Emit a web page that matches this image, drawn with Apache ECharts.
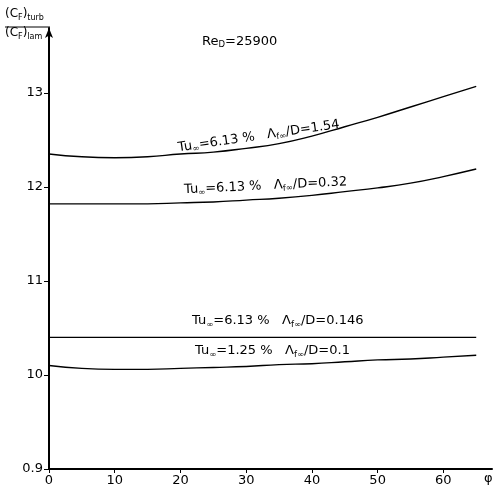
<!DOCTYPE html>
<html>
<head>
<meta charset="utf-8">
<script src="https://cdn.jsdelivr.net/npm/echarts@6/dist/echarts.min.js"></script>
<style>html,body{margin:0;padding:0;background:#fff}#c{width:494px;height:488px}</style>
</head>
<body>
<div id="c"></div>
<script>
const phi = [0, 5, 10, 15, 20, 25, 30, 35, 40, 45, 50, 55, 60, 65];
const curve154 = [12.35, 12.32, 12.31, 12.32, 12.35, 12.37, 12.41, 12.46, 12.54, 12.64, 12.74, 12.85, 12.96, 13.07];
const curve032 = [11.82, 11.82, 11.82, 11.82, 11.83, 11.84, 11.86, 11.88, 11.91, 11.95, 11.99, 12.04, 12.11, 12.19];
const curve0146 = [10.40, 10.40, 10.40, 10.40, 10.40, 10.40, 10.40, 10.40, 10.40, 10.40, 10.40, 10.40, 10.40, 10.40];
const curve01 = [10.10, 10.07, 10.06, 10.06, 10.07, 10.08, 10.09, 10.11, 10.12, 10.14, 10.16, 10.17, 10.19, 10.21];
const xTicks = [0, 10, 20, 30, 40, 50, 60];
const yTicks = [9, 10, 11, 12, 13];
const yTickLabels = ['0.9', '10', '11', '12', '13'];
const curveLabels = [
  {tu: '6.13', ld: '1.54'},
  {tu: '6.13', ld: '0.32'},
  {tu: '6.13', ld: '0.146'},
  {tu: '1.25', ld: '0.1'}
];

const FONT = 'DejaVu Sans';
const chart = echarts.init(document.getElementById('c'), null, {renderer: 'canvas'});
const mk = (arr) => phi.map((p, i) => [p, arr[i]]);
const lineStyle = {color: '#000', width: 1.4};
const richSub = {
  m: {fontFamily: FONT, fontSize: 13, color: '#000', lineHeight: 16, verticalAlign: 'middle'},
  s: {fontFamily: FONT, fontSize: 8.5, color: '#000', lineHeight: 8, verticalAlign: 'bottom'}
};
const richSmall = {
  m: {fontFamily: FONT, fontSize: 12, color: '#000', lineHeight: 15, verticalAlign: 'middle'},
  s: {fontFamily: FONT, fontSize: 8, color: '#000', lineHeight: 8, verticalAlign: 'bottom'}
};
function labelText(l) {
  return '{m|Tu}{s|∞}{m|=' + l.tu + ' %   Λ}{s|f∞}{m|/D=' + l.ld + '}';
}
const labelPos = [
  {x: 178, y: 148, r: 0.145},
  {x: 184, y: 190, r: 0.05},
  {x: 192, y: 321, r: 0},
  {x: 195, y: 351, r: 0}
];

const option = {
  animation: false,
  backgroundColor: '#fff',
  grid: {left: 49, right: 2, top: 28, bottom: 19, containLabel: false},
  xAxis: {
    type: 'value', min: 0, max: 67.4, interval: 10,
    axisLine: {lineStyle: {color: '#000', width: 2}},
    axisTick: {customValues: xTicks, length: 4, lineStyle: {color: '#000'}},
    axisLabel: {customValues: xTicks, color: '#000', fontFamily: FONT, fontSize: 13, margin: 5},
    splitLine: {show: false}
  },
  yAxis: {
    type: 'value', min: 9, max: 13.69, interval: 1,
    axisLine: {show: true, symbol: ['none', 'arrow'], symbolSize: [6, 10], lineStyle: {color: '#000', width: 2}},
    axisTick: {customValues: yTicks, length: 5, lineStyle: {color: '#000'}},
    axisLabel: {customValues: yTicks, color: '#000', fontFamily: FONT, fontSize: 13, margin: 6,
      formatter: (v) => yTickLabels[yTicks.indexOf(Math.round(v))]},
    splitLine: {show: false}
  },
  series: [curve154, curve032, curve0146, curve01].map(c => ({
    type: 'line', data: mk(c), smooth: 0.5, symbol: 'none', lineStyle: lineStyle
  })),
  graphic: [
    {type: 'text', left: 202, top: 35, style: {
      text: '{m|Re}{s|D}{m|=25900}', rich: richSub}},
    {type: 'text', left: 5, top: 8, style: {
      text: '{m|(C}{s|F}{m|)}{s|turb}', rich: richSmall}},
    {type: 'line', shape: {x1: 5, y1: 27, x2: 50, y2: 27}, style: {stroke: '#000', lineWidth: 1}},
    {type: 'text', left: 5, top: 27, style: {
      text: '{m|(C}{s|F}{m|)}{s|lam}', rich: richSmall}},
    {type: 'text', x: 484, y: 472, style: {text: 'φ', fontFamily: FONT, fontSize: 13, fill: '#000'}}
  ].concat(curveLabels.map((l, i) => ({
    type: 'text', x: labelPos[i].x, y: labelPos[i].y, rotation: labelPos[i].r,
    style: {text: labelText(l), rich: richSub, verticalAlign: 'middle'}
  })))
};
chart.setOption(option);
</script>
</body>
</html>
